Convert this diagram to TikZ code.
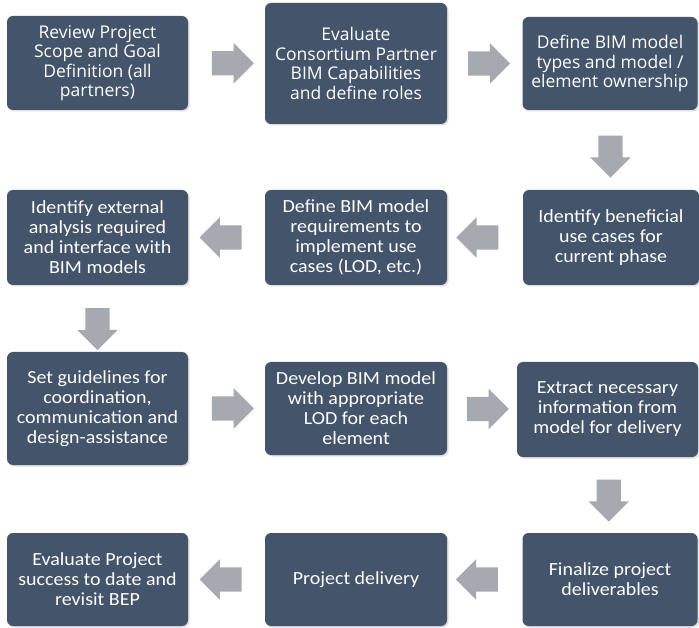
\documentclass[tikz,border=0pt]{standalone}
\usepackage{fontspec}
\setmainfont{Carlito}[FakeStretch=1.08]
\newfontfamily\widefont{Open Sans}
\usepackage{xcolor}
\usepackage{tikz}
\usetikzlibrary{positioning, calc, shapes.arrows, shadows}
\definecolor{stepblue}{RGB}{68, 84, 106}
\definecolor{arrowgray}{RGB}{166, 169, 175}

\begin{document}
\begin{tikzpicture}[x=1pt, y=-1pt,
    stepbox/.style={rectangle, rounded corners=6pt, fill=stepblue, text=white, align=center, inner sep=0pt,
        drop shadow={opacity=0.25, shadow xshift=1.5pt, shadow yshift=-1.5pt}, font=\fontsize{18.5}{20}\selectfont},
    widebox/.style={stepbox, font=\widefont\fontsize{17.5}{19.5}\selectfont},
    flowarrow/.style={single arrow, fill=arrowgray, inner xsep=0pt, inner ysep=12pt, minimum height=42pt,
        single arrow head extend=8pt, single arrow tip angle=90}]
    \fill[white] (0,0) rectangle (699,628);
    \useasboundingbox (0,0) rectangle (699,628);

    % row 1
    \node[widebox, minimum width=181pt, minimum height=94pt] (review) at (97.5,63) {Review Project\\Scope and Goal\\Definition (all\\partners)};
    \node[widebox, minimum width=182pt, minimum height=121pt] (partner) at (356,63.5) {Evaluate\\Consortium Partner\\BIM Capabilities\\and define roles};
    \node[widebox, minimum width=175pt, minimum height=93pt] (types) at (610,63.5) {Define BIM model\\types and model /\\element ownership};

    % row 2
    \node[stepbox, minimum width=176pt, minimum height=95pt] (usecases) at (611,237.5) {Identify beneficial\\use cases for\\current phase};
    \node[stepbox, minimum width=182pt, minimum height=95pt] (requirements) at (356,237.5) {Define BIM model\\requirements to\\implement use\\cases (LOD, etc.)};
    \node[stepbox, minimum width=181pt, minimum height=95pt] (external) at (97.5,237.5) {Identify external\\analysis required\\and interface with\\BIM models};

    % row 3
    \node[stepbox, minimum width=181pt, minimum height=113pt] (guidelines) at (97.5,408.5) {Set guidelines for\\coordination,\\communication and\\design-assistance};
    \node[stepbox, minimum width=182pt, minimum height=93pt] (develop) at (356,408.5) {Develop BIM model\\with appropriate\\LOD for each\\element};
    \node[stepbox, minimum width=181pt, minimum height=95pt] (extract) at (607.5,409.5) {Extract necessary\\information from\\model for delivery};

    % row 4
    \node[stepbox, minimum width=175pt, minimum height=93pt] (finalize) at (610,579.5) {Finalize project\\deliverables};
    \node[stepbox, minimum width=182pt, minimum height=93pt] (delivery) at (356,579.5) {Project delivery};
    \node[stepbox, minimum width=181pt, minimum height=93pt] (revisit) at (97.5,579.5) {Evaluate Project\\success to date and\\revisit BEP};

    % block arrows between steps
    \foreach \a/\b/\r in {review/partner/0, partner/types/0, types/usecases/-90,
        usecases/requirements/180, requirements/external/180, external/guidelines/-90,
        guidelines/develop/0, develop/extract/0, extract/finalize/-90,
        finalize/delivery/180, delivery/revisit/180}
        \node[flowarrow, rotate=\r] (\a-\b) at ($(\a)!0.5!(\b)$) {};
\end{tikzpicture}
\end{document}
